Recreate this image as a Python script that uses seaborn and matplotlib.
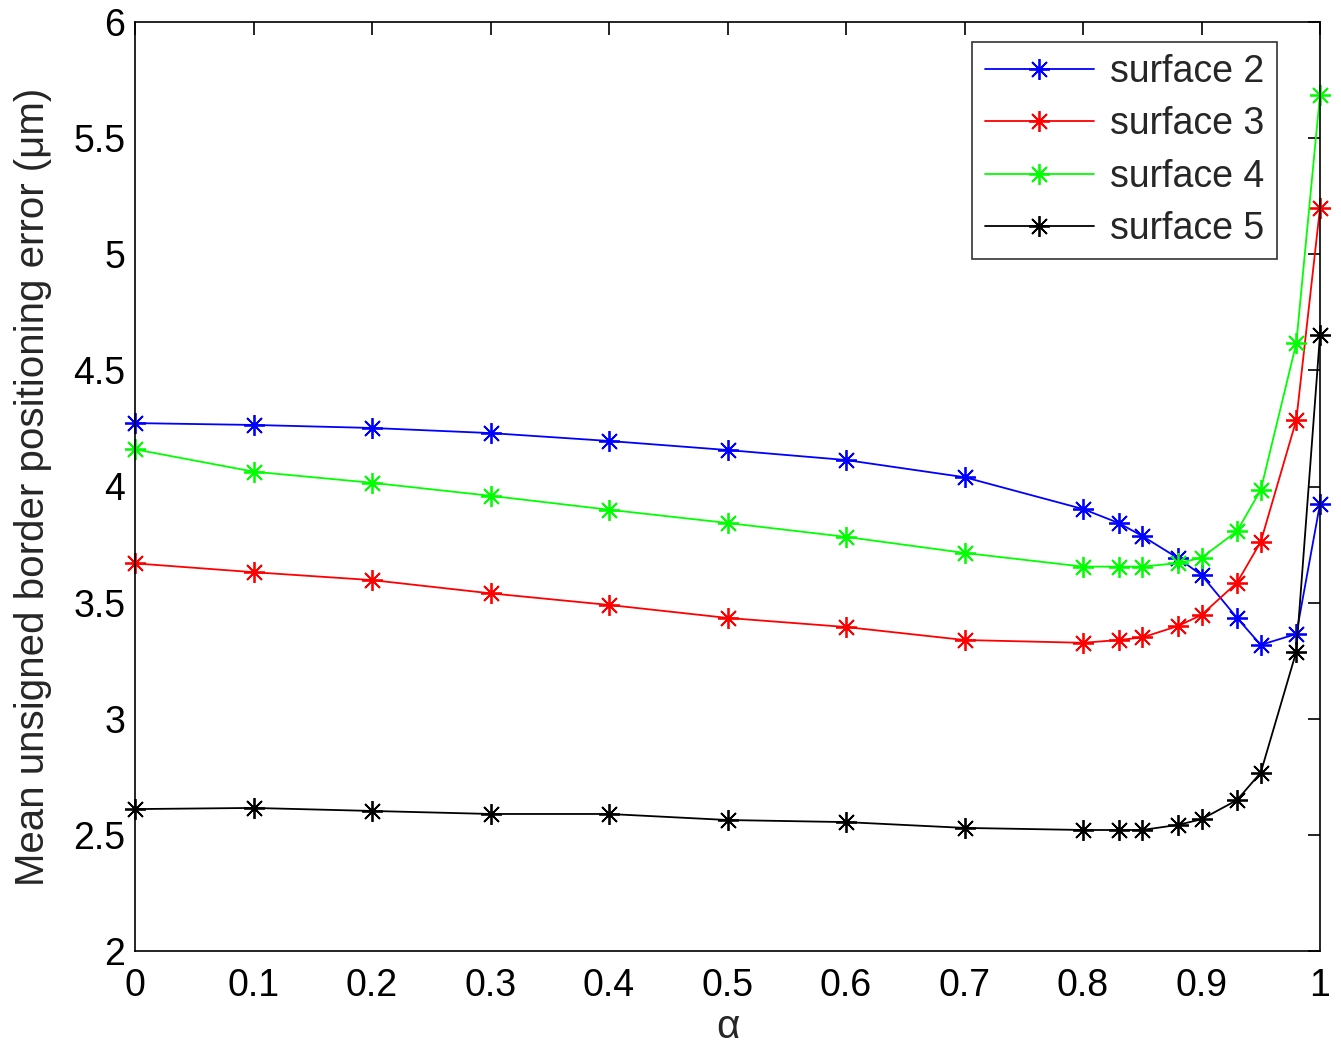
import matplotlib
matplotlib.use("Agg")
import matplotlib.pyplot as plt
import seaborn as sns
import pandas as pd

alpha = [0, 0.1, 0.2, 0.3, 0.4, 0.5, 0.6, 0.7, 0.8, 0.83, 0.85, 0.88, 0.9, 0.93, 0.95, 0.98, 1.0]
surface2 = [4.273, 4.265, 4.252, 4.230, 4.196, 4.157, 4.114, 4.040, 3.903, 3.843, 3.787, 3.692, 3.619, 3.434, 3.318, 3.365, 3.925]
surface3 = [3.669, 3.631, 3.597, 3.540, 3.490, 3.434, 3.395, 3.339, 3.327, 3.339, 3.350, 3.399, 3.447, 3.586, 3.762, 4.286, 5.199]
surface4 = [4.160, 4.064, 4.016, 3.960, 3.900, 3.843, 3.783, 3.714, 3.655, 3.655, 3.655, 3.670, 3.693, 3.808, 3.985, 4.617, 5.686]
surface5 = [2.611, 2.616, 2.603, 2.590, 2.590, 2.564, 2.555, 2.530, 2.521, 2.521, 2.521, 2.543, 2.567, 2.650, 2.768, 3.289, 4.652]
series_names = ["surface 2", "surface 3", "surface 4", "surface 5"]
colors = ["#0000ff", "#ff0000", "#00ff00", "#000000"]
x_ticks = [0, 0.1, 0.2, 0.3, 0.4, 0.5, 0.6, 0.7, 0.8, 0.9, 1]
x_tick_labels = ["0", "0.1", "0.2", "0.3", "0.4", "0.5", "0.6", "0.7", "0.8", "0.9", "1"]
y_ticks = [2, 2.5, 3, 3.5, 4, 4.5, 5, 5.5, 6]
y_tick_labels = ["2", "2.5", "3", "3.5", "4", "4.5", "5", "5.5", "6"]

sns.set_style("white")
plt.rcParams["font.family"] = ["Liberation Sans", "DejaVu Sans"]

fig = plt.figure(figsize=(13.41, 10.47), dpi=100)
ax = fig.add_axes([135 / 1341, 1 - 951 / 1047, (1320 - 135) / 1341, (951 - 22) / 1047])

data = [surface2, surface3, surface4, surface5]
for name, vals, col in zip(series_names, data, colors):
    df = pd.DataFrame({"alpha": alpha, "value": vals})
    sns.lineplot(data=df, x="alpha", y="value", ax=ax, color=col, linewidth=1.3,
                 marker=(8, 2, 0), markersize=15, mec=col, mew=1.3, label=name,
                 clip_on=False)

ax.set_xlim(0, 1)
ax.set_ylim(2, 6)
ax.set_xticks(x_ticks)
ax.set_xticklabels(x_tick_labels)
ax.set_yticks(y_ticks)
ax.set_yticklabels(y_tick_labels)
ax.tick_params(axis="both", which="both", direction="in", length=9, width=1.2,
               labelsize=27, top=True, right=True, colors="black")
ax.tick_params(axis="x", pad=12)
ax.tick_params(axis="y", pad=7)
for s in ax.spines.values():
    s.set_visible(True)
    s.set_color("black")
    s.set_linewidth(1.2)

ax.set_xlabel("α", fontsize=29, labelpad=3)
ax.set_ylabel("Mean unsigned border positioning error (μm)", fontsize=29, labelpad=15)

leg = ax.legend(loc="upper right", fontsize=27, frameon=True, fancybox=False,
                edgecolor="black", handlelength=2.9, handletextpad=0.45,
                borderpad=0.33, labelspacing=0.43, borderaxespad=0,
                bbox_to_anchor=((1277 - 135) / 1185, (951 - 42) / 929))
leg.get_frame().set_linewidth(1.2)

fig.savefig("out.png", dpi=100)
